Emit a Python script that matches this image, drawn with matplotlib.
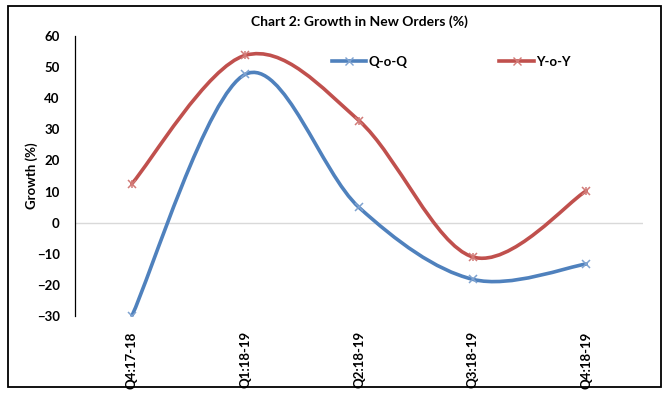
import matplotlib
matplotlib.use('Agg')
import matplotlib.pyplot as plt
import numpy as np
from matplotlib.path import Path
from matplotlib.patches import PathPatch, Rectangle
from matplotlib.lines import Line2D

categories = ["Q4:17-18", "Q1:18-19", "Q2:18-19", "Q3:18-19", "Q4:18-19"]
qoq = [-30.0, 47.7, 4.9, -18.2, -13.3]
yoy = [12.5, 53.8, 32.8, -11.0, 10.2]

blue = "#4F81BD"
red = "#C0504D"

plt.rcParams['font.family'] = ['Lato', 'DejaVu Sans']


def smooth_path(x, y):
    # excel style smoothed line: bezier segments, catmull-rom control points
    pts = np.column_stack([x, y]).astype(float)
    n = len(pts)
    verts = [pts[0]]
    codes = [Path.MOVETO]
    for i in range(n - 1):
        p0 = pts[i - 1] if i > 0 else pts[i]
        p1 = pts[i]
        p2 = pts[i + 1]
        p3 = pts[i + 2] if i + 2 < n else pts[i + 1]
        c1 = p1 + (p2 - p0) / 6.0
        c2 = p2 - (p3 - p1) / 6.0
        verts += [c1, c2, p2]
        codes += [Path.CURVE4] * 3
    return Path(verts, codes)


fig = plt.figure(figsize=(6.67, 3.96), dpi=100)
ax = fig.add_axes([75 / 667, 1 - 316 / 396, (643 - 75) / 667, (316 - 36) / 396])

x = np.arange(len(categories))
ax.axhline(0, color="#D9D9D9", lw=1, zorder=1)

for vals, col in [(qoq, blue), (yoy, red)]:
    patch = PathPatch(smooth_path(x, vals), facecolor="none", edgecolor=col,
                      lw=2.6, capstyle="round", joinstyle="round", zorder=3)
    ax.add_patch(patch)

ax.plot(x, qoq, linestyle="none", marker="x", ms=6, mew=1.1, color="#7FA3D0", zorder=4)
ax.plot(x, yoy, linestyle="none", marker="x", ms=6, mew=1.1, color="#D27B78", zorder=4)
ax.plot(x, yoy, linestyle="none", marker="|", ms=6, mew=1.1, color="#D27B78", zorder=4)

ax.set_xlim(-0.5, len(categories) - 0.5)
ax.set_ylim(-30, 60)
ax.set_yticks(np.arange(-30, 61, 10))
ax.set_xticks(x)
ax.set_xticklabels(categories, rotation=90, fontsize=9.5, fontweight="bold")
for lab in ax.get_yticklabels():
    lab.set_fontweight("bold")
    lab.set_fontsize(9.5)
ax.tick_params(axis="both", length=0)
ax.tick_params(axis="y", pad=11)
ax.tick_params(axis="x", pad=11)
for s in ["top", "right", "bottom"]:
    ax.spines[s].set_visible(False)
ax.spines["left"].set_color("black")
ax.spines["left"].set_linewidth(0.9)

ax.set_ylabel("Growth (%)", fontsize=9.5, fontweight="bold", labelpad=-1)
fig.text(359 / 667, 1 - 22 / 396, "Chart 2: Growth in New Orders (%)",
         ha="center", va="center", fontsize=10, fontweight="bold")

h1 = Line2D([], [], color=blue, lw=2.6, marker="x", ms=6, mec="#7FA3D0")
h2 = Line2D([], [], color=red, lw=2.6, marker="x", ms=6, mec="#D27B78")
leg = fig.legend([h1, h2], ["Q-o-Q", "Y-o-Y"], loc="center",
                 bbox_to_anchor=(451 / 667, 1 - 62 / 396), ncol=2, frameon=False,
                 handlelength=2.6, handletextpad=0.15, columnspacing=7.0,
                 prop={"size": 9.5, "weight": "bold"})

fig.add_artist(Rectangle((8 / 667, 1 - 387 / 396), (661 - 8) / 667, (387 - 6) / 396,
                         transform=fig.transFigure, fill=False, edgecolor="black", lw=1.3))

fig.savefig("out.png", dpi=100)
